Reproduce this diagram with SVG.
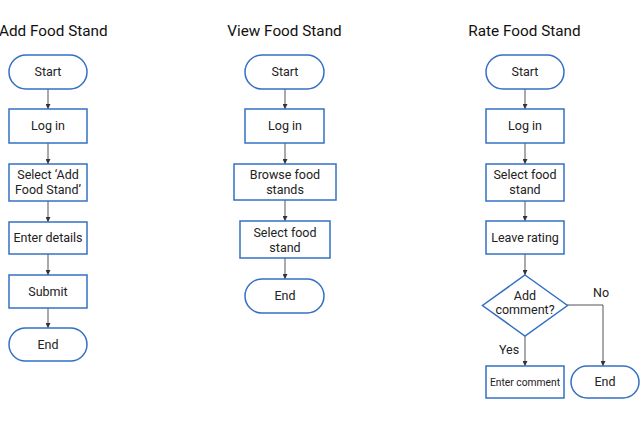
<svg xmlns="http://www.w3.org/2000/svg" width="644" height="429" viewBox="0 0 644 429">
<style>
.n{fill:#fff;stroke:#3470c4;stroke-width:1.5}
.t{font-family:Roboto,"Noto Sans",sans-serif;font-size:12.5px;fill:#222;text-anchor:middle}
.h{font-family:Roboto,"Noto Sans",sans-serif;font-size:15.3px;fill:#111}
.c{fill:none;stroke:#555;stroke-width:1}
</style>
<defs>
<marker id="a" viewBox="0 0 10 10" refX="10" refY="5" markerWidth="5" markerHeight="5" orient="auto" markerUnits="userSpaceOnUse">
<path d="M0,0L10,5L0,10z" fill="#333"/>
</marker>
</defs>
<rect width="644" height="429" fill="#fff"/>
<text class="h" x="-1" y="36">Add Food Stand</text>
<text class="h" x="284.5" y="36" text-anchor="middle">View Food Stand</text>
<text class="h" x="524.5" y="36" text-anchor="middle">Rate Food Stand</text>
<g id="connectors">
<path class="c" d="M48,89V109" marker-end="url(#a)"/>
<path class="c" d="M48,143V164" marker-end="url(#a)"/>
<path class="c" d="M48,201V222" marker-end="url(#a)"/>
<path class="c" d="M48,254V275" marker-end="url(#a)"/>
<path class="c" d="M48,308V328" marker-end="url(#a)"/>
<path class="c" d="M285,89V109" marker-end="url(#a)"/>
<path class="c" d="M285,143V164" marker-end="url(#a)"/>
<path class="c" d="M285,200V221" marker-end="url(#a)"/>
<path class="c" d="M285,258V279" marker-end="url(#a)"/>
<path class="c" d="M525,89V109" marker-end="url(#a)"/>
<path class="c" d="M525,143V164" marker-end="url(#a)"/>
<path class="c" d="M525,201V221" marker-end="url(#a)"/>
<path class="c" d="M525,254V275" marker-end="url(#a)"/>
<path class="c" d="M525,336V366" marker-end="url(#a)"/>
<path class="c" d="M567,305H603V366" marker-end="url(#a)"/>
<text class="t" x="509" y="354">Yes</text>
<text class="t" x="601" y="297">No</text>
</g>
<g id="a-start"><rect class="n" x="9" y="55" width="78" height="34" rx="17"/><text class="t" x="48" y="76.3">Start</text></g>
<g id="a-login"><rect class="n" x="9" y="109" width="78" height="34"/><text class="t" x="48" y="130.3">Log in</text></g>
<g id="a-select"><rect class="n" x="9" y="164" width="78" height="37"/><text class="t" x="48" y="179.3">Select ‘Add</text><text class="t" x="48" y="194">Food Stand’</text></g>
<g id="a-details"><rect class="n" x="9" y="222" width="78" height="32"/><text class="t" x="48" y="242.3">Enter details</text></g>
<g id="a-submit"><rect class="n" x="9" y="275" width="78" height="33"/><text class="t" x="48" y="296">Submit</text></g>
<g id="a-end"><rect class="n" x="9" y="328" width="78" height="33" rx="16.5"/><text class="t" x="48" y="349">End</text></g>
<g id="v-start"><rect class="n" x="245" y="55" width="79" height="34" rx="17"/><text class="t" x="285" y="76.3">Start</text></g>
<g id="v-login"><rect class="n" x="245" y="109" width="79" height="34"/><text class="t" x="285" y="130.3">Log in</text></g>
<g id="v-browse"><rect class="n" x="234" y="164" width="102" height="36"/><text class="t" x="285" y="179">Browse food</text><text class="t" x="285" y="193.5">stands</text></g>
<g id="v-select"><rect class="n" x="240" y="221" width="90" height="37"/><text class="t" x="285" y="237">Select food</text><text class="t" x="285" y="251.5">stand</text></g>
<g id="v-end"><rect class="n" x="245" y="279" width="79" height="34" rx="17"/><text class="t" x="285" y="300.3">End</text></g>
<g id="r-start"><rect class="n" x="486" y="55" width="78" height="34" rx="17"/><text class="t" x="525" y="76.3">Start</text></g>
<g id="r-login"><rect class="n" x="486" y="109" width="78" height="34"/><text class="t" x="525" y="130.3">Log in</text></g>
<g id="r-select"><rect class="n" x="486" y="164" width="78" height="37"/><text class="t" x="525" y="179.3">Select food</text><text class="t" x="525" y="194">stand</text></g>
<g id="r-rating"><rect class="n" x="486" y="221" width="78" height="33"/><text class="t" x="525" y="242">Leave rating</text></g>
<g id="r-decision"><path class="n" d="M525,275L567.5,305.5L525,336L482.5,305.5Z"/><text class="t" x="525" y="299.5">Add</text><text class="t" x="525" y="314">comment?</text></g>
<g id="r-comment"><rect class="n" x="486" y="366" width="78" height="32"/><text class="t" x="525" y="386" style="font-size:10.3px">Enter comment</text></g>
<g id="r-end"><rect class="n" x="571" y="366" width="68" height="32" rx="16"/><text class="t" x="605" y="386.3">End</text></g>
</svg>
